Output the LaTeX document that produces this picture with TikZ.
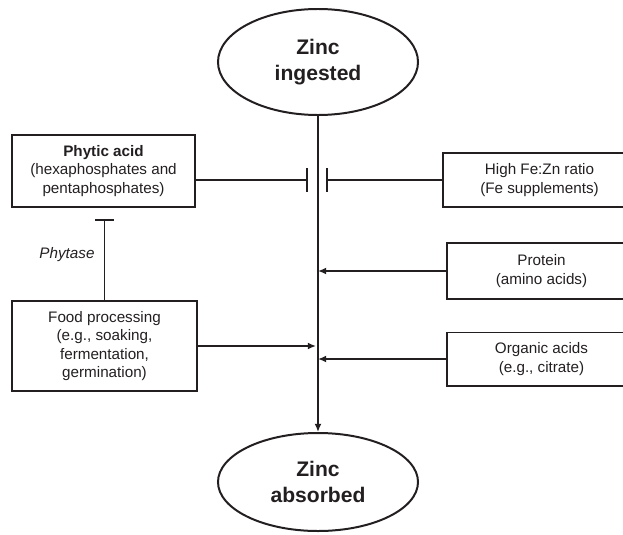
\documentclass[tikz,border=0pt]{standalone}
\usepackage{fontspec}
\setmainfont{Liberation Sans}
\usetikzlibrary{shapes.geometric, arrows.meta}
\definecolor{ink}{HTML}{231F20}

\begin{document}
\begin{tikzpicture}[x=0.03cm,y=-0.03cm,line width=1.7pt,draw=ink,text=ink,>={Latex[length=7pt,width=6pt]},
	zinc/.style={ellipse, draw, minimum width=6cm, align=center, font=\fontsize{18}{21.5}\selectfont\bfseries},
	factor/.style={rectangle, draw, align=center, font=\fontsize{13}{15.8}\selectfont},
	block/.style={-{Bar[width=#1]}}]
		\useasboundingbox (0,0) rectangle (623,534);

		\node[zinc, minimum height=3.18cm					] (INGESTED) 	at (318,62)		{Zinc\\ingested};
		\node[zinc, minimum height=2.94cm					] (ABSORBED) 	at (318,482)	{Zinc\\absorbed};

		\node[factor, minimum width=5.49cm, minimum height=2.16cm] (PHYTIC) 	at (103.5,171)	{\textbf{Phytic acid}\\(hexaphosphates and\\pentaphosphates)};
		\node[factor, minimum width=5.55cm, minimum height=2.7cm ] (FOOD) 		at (104.5,346)	{Food processing\\(e.g., soaking,\\fermentation,\\germination)};
		\node[factor, minimum width=5.79cm, minimum height=1.62cm] (FEZN) 		at (539.5,180)	{High Fe:Zn ratio\\(Fe supplements)};
		\node[factor, minimum width=5.67cm, minimum height=1.68cm] (PROTEIN) 	at (541.5,271)	{Protein\\(amino acids)};
		\node[factor, minimum width=5.67cm, minimum height=1.59cm] (ORGANIC) 	at (541.5,359)	{Organic acids\\(e.g., citrate)};

		\node[font=\fontsize{13}{15.8}\selectfont\itshape] (PHYTASE) at (67,255) {Phytase};

		\coordinate (PHY_BAR) 	at (308,180);
		\coordinate (FE_BAR) 	at (326,180);
		\coordinate (PHYTASE_BAR) at (104.5,219);
		\coordinate (PROTEIN_IN) at (318,271);
		\coordinate (FOOD_IN) 	at (316,346);
		\coordinate (ORGANIC_IN) at (318,359);

		\draw[->			] (INGESTED)				-- (ABSORBED);
		\draw[block=20pt	] (PHYTIC.east |- PHY_BAR)	-- (PHY_BAR);
		\draw[block=20pt	] (FEZN)					-- (FE_BAR);
		\draw[block=16pt	] (FOOD)					-- (PHYTASE_BAR);
		\draw[->			] (PROTEIN)					-- (PROTEIN_IN);
		\draw[->			] (FOOD)					-- (FOOD_IN);
		\draw[->			] (ORGANIC)					-- (ORGANIC_IN);

	\end{tikzpicture}
\end{document}
